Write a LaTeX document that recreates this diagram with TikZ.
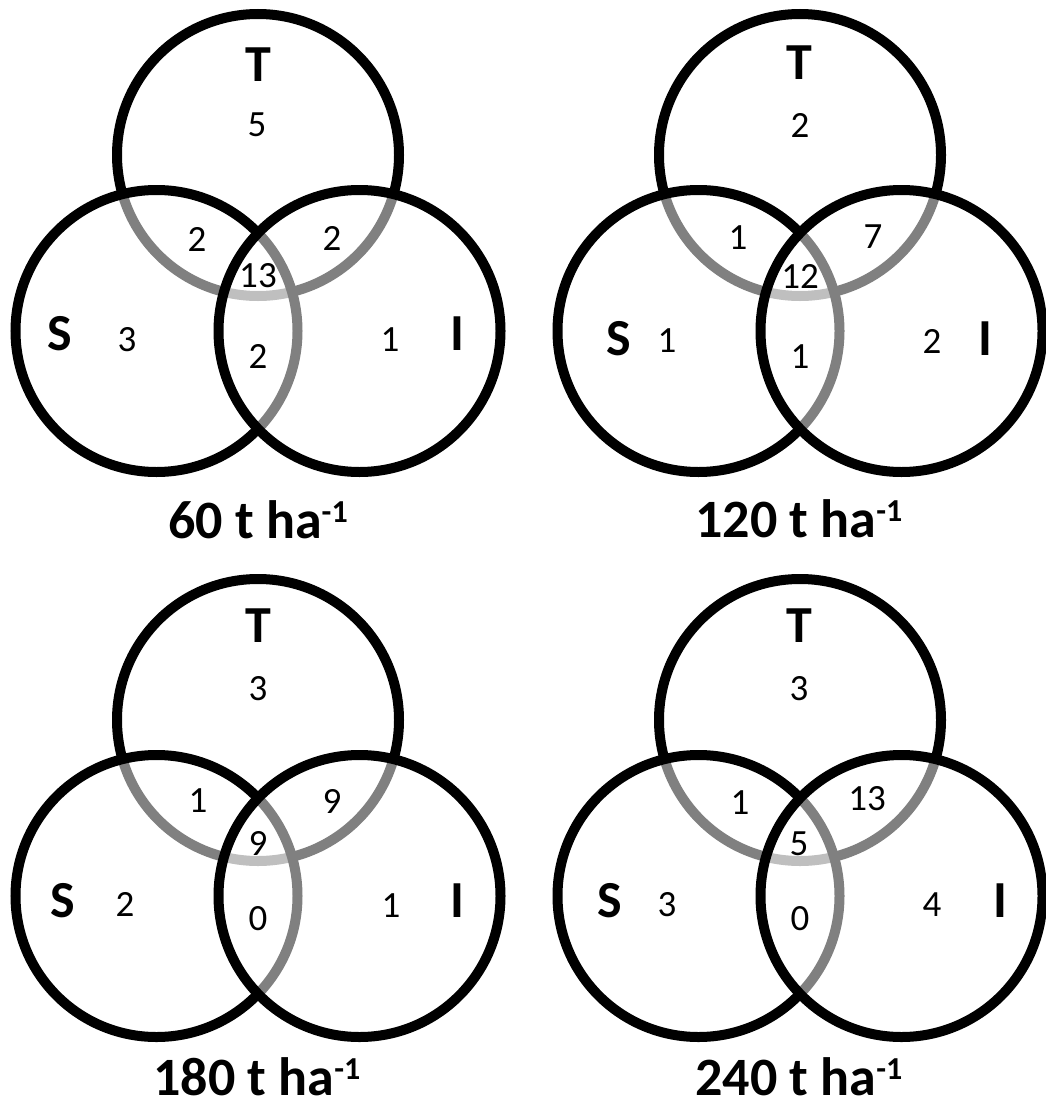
\documentclass[tikz,border=0pt]{standalone}
\usepackage{fontspec}
\setmainfont{Carlito}
\newcommand\vennrings[3]{%
  \path[ring] #1 circle [radius=141];
  \path[ring] #2 circle [radius=141];
  \path[ring] #3 circle [radius=141];}
\newcommand\perha{ha\raisebox{16pt}{\fontsize{32}{32}\selectfont -1}}
\begin{document}
\begin{tikzpicture}[x=1pt,y=-1pt,
  ring/.style={draw=black, line width=10pt, fill=white, fill opacity=0.5},
  num/.style={font=\fontsize{37}{37}\selectfont, inner sep=0pt},
  setlbl/.style={font=\fontsize{52}{52}\selectfont\bfseries, inner sep=0pt},
  ttl/.style={font=\fontsize{54}{54}\selectfont\bfseries, inner sep=0pt, anchor=base}]
\useasboundingbox[fill=white] (0,0) rectangle (1045,1108);

% ---------- panel 1: 60 t/ha ----------
\vennrings{(258,155)}{(156.5,331)}{(359.5,331)}
\node[setlbl] (aT) at (258,65) {T};
\node[setlbl] (aS) at (60,334) {S};
\node[setlbl] (aI) at (457,334) {I};
\node[num] (a1) at (257,125) {5};
\node[num] (a2) at (197,239) {2};
\node[num] (a3) at (332,238) {2};
\node[num] (a4) at (258,276) {13};
\node[num] (a5) at (127,340) {3};
\node[num] (a6) at (258,356) {2};
\node[num] (a7) at (390,340) {1};
\node[ttl] (aL) at (258,538) {60 t \perha};

% ---------- panel 2: 120 t/ha ----------
\vennrings{(800,155)}{(698.5,331)}{(901.5,331)}
\node[setlbl] (bT) at (799,63) {T};
\node[setlbl] (bS) at (619,339) {S};
\node[setlbl] (bI) at (985,339) {I};
\node[num] (b1) at (800,125) {2};
\node[num] (b2) at (738,238) {1};
\node[num] (b3) at (873,237) {7};
\node[num] (b4) at (800,276) {12};
\node[num] (b5) at (667,341) {1};
\node[num] (b6) at (800,357) {1};
\node[num] (b7) at (932,341) {2};
\node[ttl] (bL) at (799,537) {120 t \perha};

% ---------- panel 3: 180 t/ha ----------
\vennrings{(258,720)}{(156.5,896)}{(359.5,896)}
\node[setlbl] (cT) at (258,626) {T};
\node[setlbl] (cS) at (63,901) {S};
\node[setlbl] (cI) at (457,901) {I};
\node[num] (c1) at (258,689) {3};
\node[num] (c2) at (198,801) {1};
\node[num] (c3) at (332,801) {9};
\node[num] (c4) at (258,843) {9};
\node[num] (c5) at (125,904) {2};
\node[num] (c6) at (258,919) {0};
\node[num] (c7) at (391,906) {1};
\node[ttl] (cL) at (257,1095) {180 t \perha};

% ---------- panel 4: 240 t/ha ----------
\vennrings{(800,720)}{(698.5,896)}{(901.5,896)}
\node[setlbl] (dT) at (799,626) {T};
\node[setlbl] (dS) at (610,901) {S};
\node[setlbl] (dI) at (1000,901) {I};
\node[num] (d1) at (799,689) {3};
\node[num] (d2) at (740,803) {1};
\node[num] (d3) at (867,799) {13};
\node[num] (d4) at (799,844) {5};
\node[num] (d5) at (667,905) {3};
\node[num] (d6) at (800,919) {0};
\node[num] (d7) at (932,905) {4};
\node[ttl] (dL) at (799,1095) {240 t \perha};
\end{tikzpicture}
\end{document}
